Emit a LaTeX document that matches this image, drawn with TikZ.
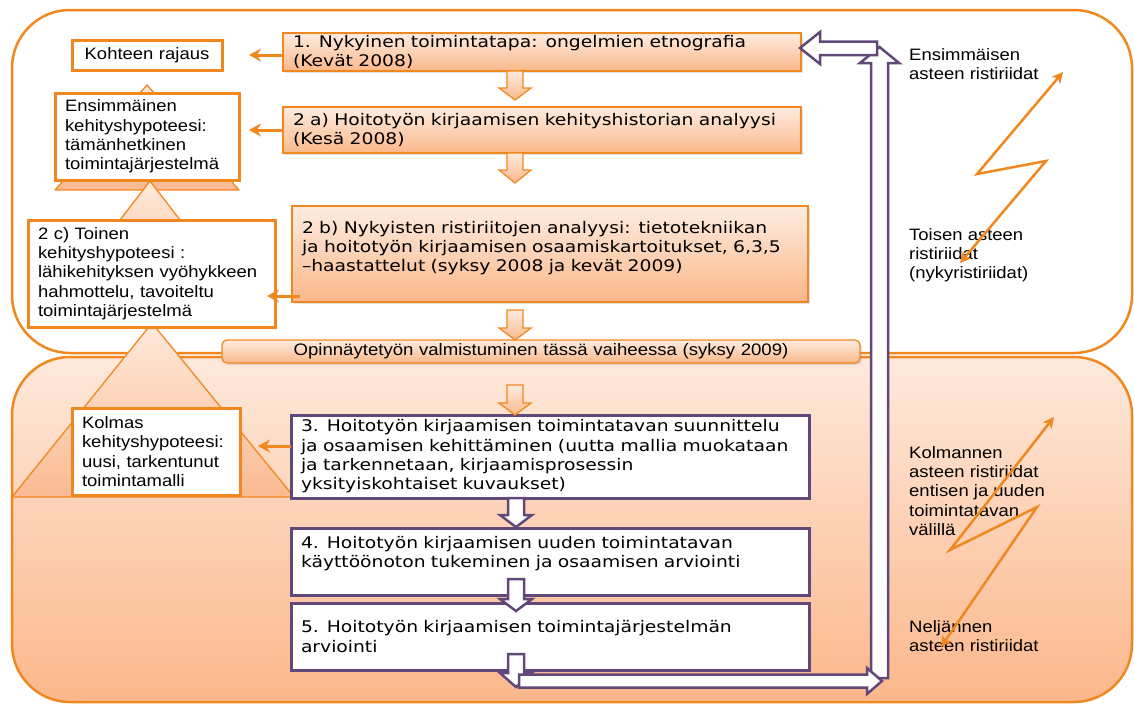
\documentclass[tikz,border=0pt]{standalone}
\usepackage{fontspec}
\setmainfont{Liberation Sans}[FakeStretch=1.12]
\newfontfamily\verdlike{DejaVu Sans}[FakeStretch=1.17]
\usetikzlibrary{arrows.meta,shadows}

\definecolor{orng}{RGB}{241,136,31}
\definecolor{purp}{RGB}{96,73,122}
\definecolor{peachT}{RGB}{254,236,224}
\definecolor{peachB}{RGB}{250,184,138}
\definecolor{panelT}{RGB}{253,233,220}
\definecolor{panelB}{RGB}{252,183,139}
\definecolor{triT}{RGB}{254,233,219}
\definecolor{triB}{RGB}{250,186,146}

\newcommand\sidefont{\fontsize{16.5}{19.3}\selectfont}
\newcommand\stepfont{\verdlike\fontsize{16}{19.3}\selectfont}

% block arrow pointing down: style, centre x, shaft top, head base, tip
\newcommand\blockdown[5]{%
  \draw[#1] (#2-8,#3) -- (#2+8,#3) -- (#2+8,#4) -- (#2+16,#4) -- (#2,#5)
    -- (#2-16,#4) -- (#2-8,#4) -- cycle;}

\tikzset{
  panel/.style={draw=orng, line width=2.5pt, rounded corners=58pt},
  tri/.style={draw=orng, line width=1.3pt, top color=triT, bottom color=triB, line join=round},
  hypo/.style={draw=orng, line width=3pt, fill=white, align=left, inner xsep=10pt,
    inner ysep=0pt, outer sep=0pt, font=\sidefont, anchor=north west},
  stage/.style={draw=orng, line width=1.3pt, top color=peachT, bottom color=peachB,
    drop shadow={opacity=0.22, shadow xshift=2pt, shadow yshift=-2pt},
    align=left, inner xsep=10pt, inner ysep=0pt, outer sep=0pt, font=\stepfont, anchor=north west},
  stageP/.style={draw=purp, line width=3pt, fill=white, align=left, inner xsep=10pt,
    inner ysep=0pt, outer sep=0pt, font=\stepfont, anchor=north west},
  note/.style={align=left, inner sep=0pt, font=\sidefont, anchor=north west},
  oblock/.style={draw=orng, line width=1.3pt, top color=peachT, bottom color=peachB, line join=miter},
  pblock/.style={draw=purp, line width=2.5pt, fill=white, line join=miter},
  larrow/.style={draw=orng, line width=3pt, -{Stealth[length=12pt,width=13pt,inset=4pt]}},
  zz/.style={draw=orng, line width=2.5pt, line join=miter,
    {Stealth[length=11pt,width=11pt,inset=3pt]}-{Stealth[length=11pt,width=11pt,inset=3pt]}}
}

\begin{document}
\begin{tikzpicture}[x=1pt,y=-1pt]
\useasboundingbox (0,0) rectangle (1134,704);

% the two phase panels
\draw[panel, fill=white] (12,10) rectangle (1132,353);
\draw[panel, top color=panelT, bottom color=panelB] (12,357) rectangle (1132,702);

% stacked hypothesis triangles
\draw[tri] (147,85) -- (239,190) -- (55,190) -- cycle;
\draw[tri] (150,181) -- (257,320) -- (43,320) -- cycle;
\draw[tri] (152,323) -- (294,497) -- (12,497) -- cycle;

% hypothesis boxes
\node[hypo, text width=130pt, minimum height=30pt, align=center] (kohde) at (72,40) {Kohteen rajaus};
\node[hypo, text width=164pt, minimum height=87pt] (ens) at (55,93)
  {Ensimmäinen\\kehityshypoteesi:\\tämänhetkinen\\toimintajärjestelmä};
\node[hypo, text width=227pt, minimum height=107pt] (toinen) at (28,220)
  {2 c) Toinen\\kehityshypoteesi :\\lähikehityksen vyöhykkeen\\hahmottelu, tavoiteltu\\toimintajärjestelmä};
\node[hypo, text width=148pt, minimum height=87pt] (kolmas) at (72,408)
  {Kolmas\\kehityshypoteesi:\\uusi, tarkentunut\\toimintamalli};

% research stages, first phase
\node[stage, text width=498pt, minimum height=38pt] (b1) at (283,33)
  {1. Nykyinen toimintatapa: ongelmien etnografia\\(Kevät 2008)};
\node[stage, text width=498pt, minimum height=46pt] (b2a) at (283,107)
  {2 a) Hoitotyön kirjaamisen kehityshistorian analyysi\\(Kesä 2008)};
\node[stage, text width=496pt, minimum height=96pt] (b2b) at (292,206)
  {2 b) Nykyisten ristiriitojen analyysi: tietotekniikan\\ja hoitotyön kirjaamisen osaamiskartoitukset, 6,3,5\\–haastattelut (syksy 2008 ja kevät 2009)\\[-4.5pt]\mbox{}};
\node[stage, text width=618pt, minimum height=23pt, align=center, rounded corners=5pt,
  font=\normalfont\fontsize{16.6}{19}\selectfont] (bar) at (222,340)
  {Opinnäytetyön valmistuminen tässä vaiheessa (syksy 2009)};

% research stages, second phase
\node[stageP, text width=498pt, minimum height=83pt] (b3) at (291,415)
  {3. Hoitotyön kirjaamisen toimintatavan suunnittelu\\ja osaamisen kehittäminen (uutta mallia muokataan\\ja tarkennetaan, kirjaamisprosessin\\yksityiskohtaiset kuvaukset)};
\node[stageP, text width=498pt, minimum height=67pt] (b4) at (291,528)
  {4. Hoitotyön kirjaamisen uuden toimintatavan\\käyttöönoton tukeminen ja osaamisen arviointi\\\mbox{}};
\node[stageP, text width=498pt, minimum height=67pt] (b5) at (291,603)
  {5. Hoitotyön kirjaamisen toimintajärjestelmän\\arviointi};

% flow between stages
\blockdown{oblock}{515}{71}{88}{100}
\blockdown{oblock}{515}{153}{170}{183}
\blockdown{oblock}{515}{310}{328}{340}
\blockdown{oblock}{515}{385}{403}{415}
\blockdown{pblock}{516}{498}{515}{527}
\blockdown{pblock}{516}{579}{599}{611}
\blockdown{pblock}{516}{654}{673}{687}

% feedback loop back to stage 1
\draw[pblock] (871,678) -- (871,63) -- (860,63) -- (879.5,47) -- (899,63) -- (888,63) -- (888,678) -- cycle;
\draw[pblock] (519,674.5) -- (867,674.5) -- (867,668) -- (882,681) -- (867,694) -- (867,687.5) -- (519,687.5) -- cycle;
\draw[pblock] (877,41.5) -- (820,41.5) -- (820,32) -- (800,48) -- (820,64) -- (820,55) -- (877,55) -- cycle;

% stages feeding the hypotheses
\draw[larrow, shorten >=27pt] ([yshift=-3pt]b1.west) -- ([yshift=-3pt]b1.west -| kohde.east);
\draw[larrow, shorten >=10pt] (b2a.west) -- (b2a.west -| ens.east);
\draw[larrow, shorten <=-8pt, shorten >=-8pt] ([yshift=-42pt]b2b.west) -- ([yshift=-42pt]b2b.west -| toinen.east);
\draw[larrow, shorten >=18pt] ([yshift=10.5pt]b3.west) -- ([yshift=10.5pt]b3.west -| kolmas.east);

% contradictions
\node[note] (c1) at (909,48) {Ensimmäisen\\asteen ristiriidat};
\node[note] (c2) at (909,228) {Toisen asteen\\ristiriidat\\(nykyristiriidat)};
\node[note] (c3) at (909,446) {Kolmannen\\asteen ristiriidat\\entisen ja uuden\\toimintatavan\\välillä};
\node[note] (c4) at (909,620) {Neljännen\\asteen ristiriidat};

\coordinate (z1a) at (1063,72);
\coordinate (z1b) at (977,174);
\coordinate (z1c) at (1046,161);
\coordinate (z1d) at (960,263);
\draw[zz] (z1a) -- (z1b) -- (z1c) -- (z1d);

\coordinate (z2a) at (1054,417);
\coordinate (z2b) at (950,550);
\coordinate (z2c) at (1037,507);
\coordinate (z2d) at (941,647);
\draw[zz] (z2a) -- (z2b) -- (z2c) -- (z2d);
\end{tikzpicture}
\end{document}
